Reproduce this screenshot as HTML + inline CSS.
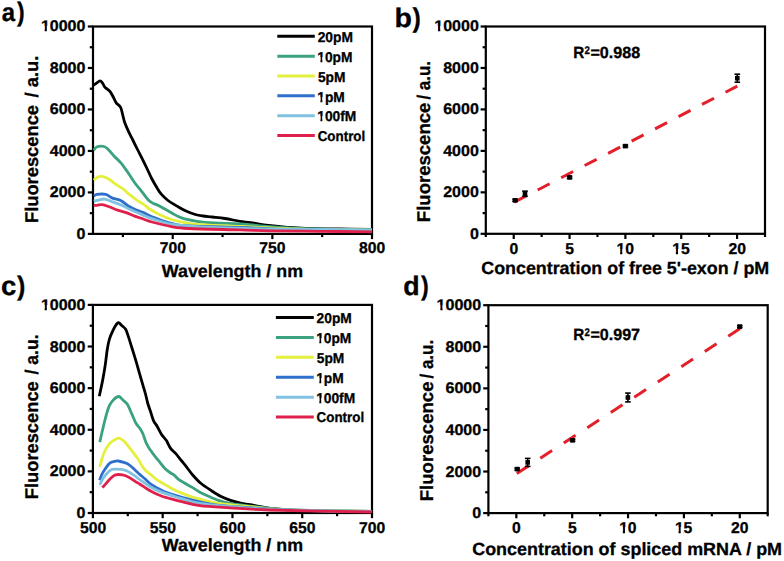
<!DOCTYPE html>
<html><head><meta charset="utf-8"><style>
html,body{margin:0;padding:0;background:#fff;}
svg{display:block;}
text{font-family:"Liberation Sans",sans-serif;font-weight:bold;fill:#000;text-rendering:geometricPrecision;stroke:#000;stroke-width:0.3px;}
</style></head><body>
<svg width="784" height="561" viewBox="0 0 784 561">
<rect width="784" height="561" fill="#fff"/>
<rect x="93" y="26.5" width="279" height="207.4" fill="none" stroke="#000" stroke-width="2.2"/>
<rect x="92.9" y="304.9" width="279.1" height="208.1" fill="none" stroke="#000" stroke-width="2.2"/>
<path d="M93.5 85.2C94 84.87 95.42 83.93 96.5 83.2C97.58 82.47 99 80.83 100 80.8C101 80.77 101.7 81.95 102.5 83C103.3 84.05 103.97 86.05 104.8 87.1C105.63 88.15 106.55 88.45 107.5 89.3C108.45 90.15 109.5 90.83 110.5 92.2C111.5 93.57 112.55 95.73 113.5 97.5C114.45 99.27 115.03 101.2 116.2 102.8C117.37 104.4 119.45 105.23 120.5 107.1C121.55 108.97 121.78 111.38 122.5 114C123.22 116.62 123.7 119.68 124.8 122.8C125.9 125.92 127.77 129.83 129.1 132.7C130.43 135.57 131.4 137.2 132.8 140C134.2 142.8 135.92 146.37 137.5 149.5C139.08 152.63 140.72 155.63 142.3 158.8C143.88 161.97 145.43 165.22 147 168.5C148.57 171.78 150.12 175.42 151.7 178.5C153.28 181.58 154.93 184.43 156.5 187C158.07 189.57 159.18 191.65 161.1 193.9C163.02 196.15 165.15 198.35 168 200.5C170.85 202.65 175.2 205.05 178.2 206.8C181.2 208.55 183.15 209.72 186 211C188.85 212.28 192.47 213.67 195.3 214.5C198.13 215.33 200.13 215.58 203 216C205.87 216.42 208.83 216.58 212.5 217C216.17 217.42 220.43 217.78 225 218.5C229.57 219.22 235.63 220.6 239.9 221.3C244.17 222 245.42 221.97 250.6 222.7C255.78 223.43 264.88 224.93 271 225.7C277.12 226.47 281.52 226.85 287.3 227.3C293.08 227.75 296.92 228.12 305.7 228.4C314.48 228.68 328.95 228.85 340 229C351.05 229.15 366.67 229.25 372 229.3" fill="none" stroke="#000000" stroke-width="2.8" stroke-linejoin="round" stroke-linecap="butt"/>
<path d="M93.7 150.3C94.27 149.72 95.38 147.43 97.1 146.8C98.82 146.17 102.15 146.07 104 146.5C105.85 146.93 106.5 147.78 108.2 149.4C109.9 151.02 112.05 153.92 114.2 156.2C116.35 158.48 118.82 160.38 121.1 163.1C123.38 165.82 125.63 169.23 127.9 172.5C130.17 175.77 132.42 179.57 134.7 182.7C136.98 185.83 139.33 188.43 141.6 191.3C143.87 194.17 146.32 197.87 148.3 199.9C150.28 201.93 151.65 202.5 153.5 203.5C155.35 204.5 156.42 204.35 159.4 205.9C162.38 207.45 167.7 210.8 171.4 212.8C175.1 214.8 177.32 216.48 181.6 217.9C185.88 219.32 191.67 220.45 197.1 221.3C202.53 222.15 207.07 222.57 214.2 223C221.33 223.43 232.27 223.43 239.9 223.9C247.53 224.37 249.98 225.03 260 225.8C270.02 226.57 287.5 227.92 300 228.5C312.5 229.08 323 229.12 335 229.3C347 229.48 365.83 229.55 372 229.6" fill="none" stroke="#3aa27c" stroke-width="2.8" stroke-linejoin="round" stroke-linecap="butt"/>
<path d="M93.7 180.2C94.42 179.63 96.28 177.37 98 176.8C99.72 176.23 102.15 176.38 104 176.8C105.85 177.22 107.12 178.03 109.1 179.3C111.08 180.57 113.62 182.83 115.9 184.4C118.18 185.97 120.52 186.98 122.8 188.7C125.08 190.42 127.33 192.85 129.6 194.7C131.87 196.55 134.12 198.23 136.4 199.8C138.68 201.37 141.12 202.57 143.3 204.1C145.48 205.63 146.82 207.27 149.5 209C152.18 210.73 155.75 212.75 159.4 214.5C163.05 216.25 166.55 218.03 171.4 219.5C176.25 220.97 182.8 222.38 188.5 223.3C194.2 224.22 197.03 224.47 205.6 225C214.17 225.53 227.5 225.95 239.9 226.5C252.3 227.05 266.65 227.8 280 228.3C293.35 228.8 304.67 229.18 320 229.5C335.33 229.82 363.33 230.08 372 230.2" fill="none" stroke="#e4f03c" stroke-width="2.8" stroke-linejoin="round" stroke-linecap="butt"/>
<path d="M93.7 196.1C94.27 195.82 95.1 194.68 97.1 194.4C99.1 194.12 103.13 193.78 105.7 194.4C108.27 195.02 109.93 197.05 112.5 198.1C115.07 199.15 118.53 199.42 121.1 200.7C123.67 201.98 125.35 204.23 127.9 205.8C130.45 207.37 133.83 208.97 136.4 210.1C138.97 211.23 140.7 211.47 143.3 212.6C145.9 213.73 149.22 215.7 152 216.9C154.78 218.1 156.77 218.72 160 219.8C163.23 220.88 166.65 222.37 171.4 223.4C176.15 224.43 177.08 225.32 188.5 226C199.92 226.68 226.32 227.03 239.9 227.5C253.48 227.97 259.98 228.45 270 228.8C280.02 229.15 283 229.3 300 229.6C317 229.9 360 230.43 372 230.6" fill="none" stroke="#2f6fcc" stroke-width="2.8" stroke-linejoin="round" stroke-linecap="butt"/>
<path d="M93.7 201.2C94.55 201.03 97.08 200.57 98.8 200.2C100.52 199.83 102 198.83 104 199C106 199.17 107.95 200.2 110.8 201.2C113.65 202.2 117.68 203.52 121.1 205C124.52 206.48 127.6 208.4 131.3 210.1C135 211.8 139.85 213.78 143.3 215.2C146.75 216.62 147.32 217.1 152 218.6C156.68 220.1 163.4 222.83 171.4 224.2C179.4 225.57 188.58 226.13 200 226.8C211.42 227.47 228.23 227.8 239.9 228.2C251.57 228.6 256.65 228.98 270 229.2C283.35 229.42 303 229.4 320 229.5C337 229.6 363.33 229.75 372 229.8" fill="none" stroke="#80c2e0" stroke-width="2.8" stroke-linejoin="round" stroke-linecap="butt"/>
<path d="M93.7 205.3C94.27 205.3 95.67 205.42 97.1 205.3C98.53 205.18 100.3 204.37 102.3 204.6C104.3 204.83 106.55 205.78 109.1 206.7C111.65 207.62 114.75 209.12 117.6 210.1C120.45 211.08 123.35 211.6 126.2 212.6C129.05 213.6 131.85 215.03 134.7 216.1C137.55 217.17 140.42 218.02 143.3 219C146.18 219.98 147.32 220.73 152 222C156.68 223.27 165.32 225.52 171.4 226.6C177.48 227.68 177.08 227.95 188.5 228.5C199.92 229.05 226.32 229.52 239.9 229.9C253.48 230.28 256.65 230.57 270 230.8C283.35 231.03 303 231.13 320 231.3C337 231.47 363.33 231.72 372 231.8" fill="none" stroke="#e0204c" stroke-width="2.8" stroke-linejoin="round" stroke-linecap="butt"/>
<path d="M99.3 396.2C99.87 393.5 101.7 385.27 102.7 380C103.7 374.73 104.53 369.73 105.3 364.6C106.07 359.47 106.6 353.48 107.3 349.2C108 344.92 108.55 342.03 109.5 338.9C110.45 335.77 111.85 332.82 113 330.4C114.15 327.98 115.47 325.68 116.4 324.4C117.33 323.12 117.6 322.42 118.6 322.7C119.6 322.98 121.2 324.97 122.4 326.1C123.6 327.23 124.82 327.78 125.8 329.5C126.78 331.22 127.3 333.4 128.3 336.4C129.3 339.4 130.52 343.37 131.8 347.5C133.08 351.63 134.73 356.93 136 361.2C137.27 365.47 138.25 369.12 139.4 373.1C140.55 377.08 141.88 381.62 142.9 385.1C143.92 388.58 144.68 390.93 145.5 394C146.32 397.07 146.93 400.48 147.8 403.5C148.67 406.52 149.75 409.25 150.7 412.1C151.65 414.95 152.43 418.23 153.5 420.6C154.57 422.97 155.78 424.03 157.1 426.3C158.42 428.57 159.85 431.82 161.4 434.2C162.95 436.58 164.87 438.23 166.4 440.6C167.93 442.97 169.07 446.27 170.6 448.4C172.13 450.53 173.82 451.38 175.6 453.4C177.38 455.42 179.4 458.13 181.3 460.5C183.2 462.87 185.1 465.18 187 467.6C188.9 470.02 190.4 472.38 192.7 475C195 477.62 197.75 480.73 200.8 483.3C203.85 485.87 207.62 488.2 211 490.4C214.38 492.6 217.72 494.8 221.1 496.5C224.48 498.2 227.9 499.47 231.3 500.6C234.7 501.73 238.38 502.62 241.5 503.3C244.62 503.98 245.75 503.95 250 504.7C254.25 505.45 260.78 506.95 267 507.8C273.22 508.65 281.53 509.3 287.3 509.8C293.07 510.3 292.82 510.57 301.6 510.8C310.38 511.03 328.27 511.12 340 511.2C351.73 511.28 366.67 511.28 372 511.3" fill="none" stroke="#000000" stroke-width="2.8" stroke-linejoin="round" stroke-linecap="butt"/>
<path d="M99.8 442.1C100.28 439.97 101.65 433.72 102.7 429.3C103.75 424.88 104.97 419.58 106.1 415.6C107.23 411.62 108.22 408.1 109.5 405.4C110.78 402.7 112.23 400.88 113.8 399.4C115.37 397.92 117.33 396.35 118.9 396.5C120.47 396.65 121.77 398.97 123.2 400.3C124.63 401.63 126.07 402.23 127.5 404.5C128.93 406.77 130.38 410.77 131.8 413.9C133.22 417.03 134.63 420.87 136 423.3C137.37 425.73 138.87 426.8 140 428.5C141.13 430.2 141.73 431.02 142.8 433.5C143.87 435.98 145.08 440.55 146.4 443.4C147.72 446.25 149.27 448.43 150.7 450.6C152.13 452.77 153.4 454.37 155 456.4C156.6 458.43 158.7 460.83 160.3 462.8C161.9 464.77 163 466.58 164.6 468.2C166.2 469.82 168.3 471.35 169.9 472.5C171.5 473.65 172.77 473.95 174.2 475.1C175.63 476.25 176.72 478.05 178.5 479.4C180.28 480.75 182.77 481.95 184.9 483.2C187.03 484.45 188.8 485.4 191.3 486.9C193.8 488.4 197.3 490.77 199.9 492.2C202.5 493.63 203.7 494.1 206.9 495.5C210.1 496.9 215.03 499.23 219.1 500.6C223.17 501.97 226.15 502.78 231.3 503.7C236.45 504.62 242.72 505.25 250 506.1C257.28 506.95 265 508.07 275 508.8C285 509.53 293.83 510.07 310 510.5C326.17 510.93 361.67 511.25 372 511.4" fill="none" stroke="#3aa27c" stroke-width="2.8" stroke-linejoin="round" stroke-linecap="butt"/>
<path d="M99.8 466.9C100.42 464.77 102.02 457.8 103.5 454.1C104.98 450.4 106.98 446.98 108.7 444.7C110.42 442.42 112.1 441.48 113.8 440.4C115.5 439.32 117.18 438.05 118.9 438.2C120.62 438.35 122.38 439.78 124.1 441.3C125.82 442.82 127.5 445.17 129.2 447.3C130.9 449.43 132.77 452.07 134.3 454.1C135.83 456.13 137.1 457.52 138.4 459.5C139.7 461.48 140.95 464.2 142.1 466C143.25 467.8 143.87 468.87 145.3 470.3C146.73 471.73 148.73 473 150.7 474.6C152.67 476.2 154.97 478.38 157.1 479.9C159.23 481.42 161.37 482.45 163.5 483.7C165.63 484.95 167.58 486.15 169.9 487.4C172.22 488.65 174.9 490.03 177.4 491.2C179.9 492.37 182.4 493.42 184.9 494.4C187.4 495.38 189.9 496.3 192.4 497.1C194.9 497.9 195.78 498.18 199.9 499.2C204.02 500.22 208.75 501.95 217.1 503.2C225.45 504.45 237.85 505.6 250 506.7C262.15 507.8 269.67 509 290 509.8C310.33 510.6 358.33 511.22 372 511.5" fill="none" stroke="#e4f03c" stroke-width="2.8" stroke-linejoin="round" stroke-linecap="butt"/>
<path d="M99.6 480.3C99.97 479.33 100.85 476.42 101.8 474.5C102.75 472.58 103.97 470.7 105.3 468.8C106.63 466.9 108.28 464.33 109.8 463.1C111.32 461.87 113.03 461.75 114.4 461.4C115.77 461.05 116.48 460.85 118 461C119.52 461.15 121.63 461.67 123.5 462.3C125.37 462.93 127.28 463.52 129.2 464.8C131.12 466.08 133.2 468.37 135 470C136.8 471.63 138.45 473.22 140 474.6C141.55 475.98 142.52 476.7 144.3 478.3C146.08 479.9 148.57 482.58 150.7 484.2C152.83 485.82 154.97 486.83 157.1 488C159.23 489.17 161 490.13 163.5 491.2C166 492.27 168.88 493.33 172.1 494.4C175.32 495.47 179.23 496.62 182.8 497.6C186.37 498.58 190.65 499.58 193.5 500.3C196.35 501.02 195.97 501.08 199.9 501.9C203.83 502.72 208.75 504.23 217.1 505.2C225.45 506.17 236.18 506.85 250 507.7C263.82 508.55 279.67 509.65 300 510.3C320.33 510.95 360 511.38 372 511.6" fill="none" stroke="#2f6fcc" stroke-width="2.8" stroke-linejoin="round" stroke-linecap="butt"/>
<path d="M99.8 484.8C100.33 483.75 101.7 480.5 103 478.5C104.3 476.5 106.08 474.32 107.6 472.8C109.12 471.28 109.82 469.97 112.1 469.4C114.38 468.83 118.82 469.12 121.3 469.4C123.78 469.68 124.92 470.15 127 471.1C129.08 472.05 131.52 473.57 133.8 475.1C136.08 476.63 138.03 478.4 140.7 480.3C143.37 482.2 146.77 484.7 149.8 486.5C152.83 488.3 154.72 489.43 158.9 491.1C163.08 492.77 168.07 494.43 174.9 496.5C181.73 498.57 190.72 501.83 199.9 503.5C209.08 505.17 218.32 505.53 230 506.5C241.68 507.47 246.33 508.43 270 509.3C293.67 510.17 355 511.3 372 511.7" fill="none" stroke="#80c2e0" stroke-width="2.8" stroke-linejoin="round" stroke-linecap="butt"/>
<path d="M102.4 487.7C103.07 486.93 104.97 484.72 106.4 483.1C107.83 481.48 109.48 479.37 111 478C112.52 476.63 113.6 475.42 115.5 474.9C117.4 474.38 120.12 474.48 122.4 474.9C124.68 475.32 126.92 476.22 129.2 477.4C131.48 478.58 134.3 480.87 136.1 482C137.9 483.13 138.28 483.12 140 484.2C141.72 485.28 144.08 487.07 146.4 488.5C148.72 489.93 151.4 491.55 153.9 492.8C156.4 494.05 158.37 494.93 161.4 496C164.43 497.07 168.53 498.22 172.1 499.2C175.67 500.18 178.17 500.83 182.8 501.9C187.43 502.97 192.03 504.62 199.9 505.6C207.77 506.58 218.32 507.07 230 507.8C241.68 508.53 246.33 509.3 270 510C293.67 510.7 355 511.67 372 512" fill="none" stroke="#e0204c" stroke-width="2.8" stroke-linejoin="round" stroke-linecap="butt"/>
<line x1="87.8" y1="233.9" x2="93" y2="233.9" stroke="#000" stroke-width="2.2"/>
<text transform="translate(76.54 239) scale(1.040 1)" font-size="15.4">0</text>
<line x1="89.8" y1="213.16" x2="93" y2="213.16" stroke="#000" stroke-width="2.2"/>
<line x1="87.8" y1="192.42" x2="93" y2="192.42" stroke="#000" stroke-width="2.2"/>
<text transform="translate(49.82 197) scale(1.040 1)" font-size="15.4">2000</text>
<line x1="89.8" y1="171.68" x2="93" y2="171.68" stroke="#000" stroke-width="2.2"/>
<line x1="87.8" y1="150.94" x2="93" y2="150.94" stroke="#000" stroke-width="2.2"/>
<text transform="translate(49.82 156) scale(1.040 1)" font-size="15.4">4000</text>
<line x1="89.8" y1="130.2" x2="93" y2="130.2" stroke="#000" stroke-width="2.2"/>
<line x1="87.8" y1="109.46" x2="93" y2="109.46" stroke="#000" stroke-width="2.2"/>
<text transform="translate(49.82 114) scale(1.040 1)" font-size="15.4">6000</text>
<line x1="89.8" y1="88.72" x2="93" y2="88.72" stroke="#000" stroke-width="2.2"/>
<line x1="87.8" y1="67.98" x2="93" y2="67.98" stroke="#000" stroke-width="2.2"/>
<text transform="translate(49.82 73) scale(1.040 1)" font-size="15.4">8000</text>
<line x1="89.8" y1="47.24" x2="93" y2="47.24" stroke="#000" stroke-width="2.2"/>
<line x1="87.8" y1="26.5" x2="93" y2="26.5" stroke="#000" stroke-width="2.2"/>
<text transform="translate(40.91 31) scale(1.040 1)" font-size="15.4">10000</text>
<rect x="39.74" y="26" width="4.88" height="7" fill="#fff"/>
<rect x="46.88" y="26" width="3.03" height="7" fill="#fff"/>
<line x1="172.71" y1="233.9" x2="172.71" y2="239.1" stroke="#000" stroke-width="2.2"/>
<text transform="translate(159.69 253.4) scale(1.000 1)" font-size="15.7">700</text>
<line x1="272.36" y1="233.9" x2="272.36" y2="239.1" stroke="#000" stroke-width="2.2"/>
<text transform="translate(259.33 253.4) scale(1.000 1)" font-size="15.7">750</text>
<line x1="372" y1="233.9" x2="372" y2="239.1" stroke="#000" stroke-width="2.2"/>
<text transform="translate(358.98 253.4) scale(1.000 1)" font-size="15.7">800</text>
<line x1="122.89" y1="233.9" x2="122.89" y2="237.1" stroke="#000" stroke-width="2.2"/>
<line x1="222.54" y1="233.9" x2="222.54" y2="237.1" stroke="#000" stroke-width="2.2"/>
<line x1="322.18" y1="233.9" x2="322.18" y2="237.1" stroke="#000" stroke-width="2.2"/>
<line x1="277.3" y1="36.3" x2="314.8" y2="36.3" stroke="#000000" stroke-width="3.0"/>
<text transform="translate(317.67 42) scale(0.970 1)" font-size="14.2">20pM</text>
<line x1="277.3" y1="56.15" x2="314.8" y2="56.15" stroke="#3aa27c" stroke-width="3.0"/>
<text transform="translate(317.24 62) scale(0.970 1)" font-size="14.2">10pM</text>
<rect x="316.23" y="57" width="4.2" height="7" fill="#fff"/>
<rect x="322.37" y="57" width="2.6" height="7" fill="#fff"/>
<line x1="277.3" y1="76" x2="314.8" y2="76" stroke="#e4f03c" stroke-width="3.0"/>
<text transform="translate(317.88 82) scale(0.970 1)" font-size="14.2">5pM</text>
<line x1="277.3" y1="95.85" x2="314.8" y2="95.85" stroke="#2f6fcc" stroke-width="3.0"/>
<text transform="translate(317.24 102) scale(0.970 1)" font-size="14.2">1pM</text>
<rect x="316.23" y="97" width="4.2" height="7" fill="#fff"/>
<rect x="322.37" y="97" width="2.6" height="7" fill="#fff"/>
<line x1="277.3" y1="115.7" x2="314.8" y2="115.7" stroke="#80c2e0" stroke-width="3.0"/>
<text transform="translate(317.24 121) scale(0.970 1)" font-size="14.2">100fM</text>
<rect x="316.23" y="116" width="4.2" height="7" fill="#fff"/>
<rect x="322.37" y="116" width="2.6" height="7" fill="#fff"/>
<line x1="277.3" y1="135.55" x2="314.8" y2="135.55" stroke="#e0204c" stroke-width="3.0"/>
<text transform="translate(317.68 141) scale(0.943 1)" font-size="14.2">Control</text>
<text transform="translate(161.8 277.1) scale(1.015 1)" font-size="17.6">Wavelength / nm</text>
<text transform="translate(38.3 223.05) rotate(-90) scale(0.996 1)" font-size="18.4">Fluorescence</text>
<text transform="translate(38.3 97.5) rotate(-90) scale(0.997 1)" font-size="18.4">/ a.u.</text>
<text transform="translate(1.73 21.4) scale(0.928 1)" font-size="25.8">a</text>
<text transform="translate(17 21.4) scale(0.855 1)" font-size="26.8">)</text>
<line x1="87.7" y1="513" x2="92.9" y2="513" stroke="#000" stroke-width="2.2"/>
<text transform="translate(76.54 518) scale(1.040 1)" font-size="15.4">0</text>
<line x1="89.7" y1="492.19" x2="92.9" y2="492.19" stroke="#000" stroke-width="2.2"/>
<line x1="87.7" y1="471.38" x2="92.9" y2="471.38" stroke="#000" stroke-width="2.2"/>
<text transform="translate(49.82 476) scale(1.040 1)" font-size="15.4">2000</text>
<line x1="89.7" y1="450.57" x2="92.9" y2="450.57" stroke="#000" stroke-width="2.2"/>
<line x1="87.7" y1="429.76" x2="92.9" y2="429.76" stroke="#000" stroke-width="2.2"/>
<text transform="translate(49.82 435) scale(1.040 1)" font-size="15.4">4000</text>
<line x1="89.7" y1="408.95" x2="92.9" y2="408.95" stroke="#000" stroke-width="2.2"/>
<line x1="87.7" y1="388.14" x2="92.9" y2="388.14" stroke="#000" stroke-width="2.2"/>
<text transform="translate(49.82 393) scale(1.040 1)" font-size="15.4">6000</text>
<line x1="89.7" y1="367.33" x2="92.9" y2="367.33" stroke="#000" stroke-width="2.2"/>
<line x1="87.7" y1="346.52" x2="92.9" y2="346.52" stroke="#000" stroke-width="2.2"/>
<text transform="translate(49.82 352) scale(1.040 1)" font-size="15.4">8000</text>
<line x1="89.7" y1="325.71" x2="92.9" y2="325.71" stroke="#000" stroke-width="2.2"/>
<line x1="87.7" y1="304.9" x2="92.9" y2="304.9" stroke="#000" stroke-width="2.2"/>
<text transform="translate(40.91 310) scale(1.040 1)" font-size="15.4">10000</text>
<rect x="39.74" y="305" width="4.88" height="7" fill="#fff"/>
<rect x="46.88" y="305" width="3.03" height="7" fill="#fff"/>
<line x1="92.9" y1="513" x2="92.9" y2="518.2" stroke="#000" stroke-width="2.2"/>
<text transform="translate(80 532.6) scale(1.000 1)" font-size="15.7">500</text>
<line x1="162.68" y1="513" x2="162.68" y2="518.2" stroke="#000" stroke-width="2.2"/>
<text transform="translate(149.77 532.6) scale(1.000 1)" font-size="15.7">550</text>
<line x1="232.45" y1="513" x2="232.45" y2="518.2" stroke="#000" stroke-width="2.2"/>
<text transform="translate(219.43 532.6) scale(1.000 1)" font-size="15.7">600</text>
<line x1="302.23" y1="513" x2="302.23" y2="518.2" stroke="#000" stroke-width="2.2"/>
<text transform="translate(289.2 532.6) scale(1.000 1)" font-size="15.7">650</text>
<line x1="372" y1="513" x2="372" y2="518.2" stroke="#000" stroke-width="2.2"/>
<text transform="translate(358.98 532.6) scale(1.000 1)" font-size="15.7">700</text>
<line x1="127.79" y1="513" x2="127.79" y2="516.2" stroke="#000" stroke-width="2.2"/>
<line x1="197.56" y1="513" x2="197.56" y2="516.2" stroke="#000" stroke-width="2.2"/>
<line x1="267.34" y1="513" x2="267.34" y2="516.2" stroke="#000" stroke-width="2.2"/>
<line x1="337.11" y1="513" x2="337.11" y2="516.2" stroke="#000" stroke-width="2.2"/>
<line x1="275.9" y1="317.5" x2="313.8" y2="317.5" stroke="#000000" stroke-width="3.0"/>
<text transform="translate(316.57 323) scale(0.970 1)" font-size="14.2">20pM</text>
<line x1="275.9" y1="337.42" x2="313.8" y2="337.42" stroke="#3aa27c" stroke-width="3.0"/>
<text transform="translate(316.14 343) scale(0.970 1)" font-size="14.2">10pM</text>
<rect x="315.13" y="338" width="4.2" height="7" fill="#fff"/>
<rect x="321.27" y="338" width="2.6" height="7" fill="#fff"/>
<line x1="275.9" y1="357.34" x2="313.8" y2="357.34" stroke="#e4f03c" stroke-width="3.0"/>
<text transform="translate(316.78 363) scale(0.970 1)" font-size="14.2">5pM</text>
<line x1="275.9" y1="377.26" x2="313.8" y2="377.26" stroke="#2f6fcc" stroke-width="3.0"/>
<text transform="translate(316.14 383) scale(0.970 1)" font-size="14.2">1pM</text>
<rect x="315.13" y="378" width="4.2" height="7" fill="#fff"/>
<rect x="321.27" y="378" width="2.6" height="7" fill="#fff"/>
<line x1="275.9" y1="397.18" x2="313.8" y2="397.18" stroke="#80c2e0" stroke-width="3.0"/>
<text transform="translate(316.14 403) scale(0.970 1)" font-size="14.2">100fM</text>
<rect x="315.13" y="398" width="4.2" height="7" fill="#fff"/>
<rect x="321.27" y="398" width="2.6" height="7" fill="#fff"/>
<line x1="275.9" y1="417.1" x2="313.8" y2="417.1" stroke="#e0204c" stroke-width="3.0"/>
<text transform="translate(316.58 422) scale(0.943 1)" font-size="14.2">Control</text>
<text transform="translate(161.8 551.4) scale(1.015 1)" font-size="17.6">Wavelength / nm</text>
<text transform="translate(37.5 499.24) rotate(-90) scale(0.995 1)" font-size="18.4">Fluorescence</text>
<text transform="translate(37.5 374.4) rotate(-90) scale(0.953 1)" font-size="18.4">/ a.u.</text>
<text transform="translate(1.04 295.3) scale(1.030 1)" font-size="26.8">c</text>
<text transform="translate(17 295.3) scale(0.930 1)" font-size="26.8">)</text>
<rect x="485.8" y="26.5" width="279.2" height="207.3" fill="none" stroke="#000" stroke-width="2.2"/>
<line x1="480.6" y1="233.8" x2="485.8" y2="233.8" stroke="#000" stroke-width="2.2"/>
<text transform="translate(469.94 239) scale(1.040 1)" font-size="15.4">0</text>
<line x1="482.6" y1="213.07" x2="485.8" y2="213.07" stroke="#000" stroke-width="2.2"/>
<line x1="480.6" y1="192.34" x2="485.8" y2="192.34" stroke="#000" stroke-width="2.2"/>
<text transform="translate(443.22 197) scale(1.040 1)" font-size="15.4">2000</text>
<line x1="482.6" y1="171.61" x2="485.8" y2="171.61" stroke="#000" stroke-width="2.2"/>
<line x1="480.6" y1="150.88" x2="485.8" y2="150.88" stroke="#000" stroke-width="2.2"/>
<text transform="translate(443.22 156) scale(1.040 1)" font-size="15.4">4000</text>
<line x1="482.6" y1="130.15" x2="485.8" y2="130.15" stroke="#000" stroke-width="2.2"/>
<line x1="480.6" y1="109.42" x2="485.8" y2="109.42" stroke="#000" stroke-width="2.2"/>
<text transform="translate(443.22 114) scale(1.040 1)" font-size="15.4">6000</text>
<line x1="482.6" y1="88.69" x2="485.8" y2="88.69" stroke="#000" stroke-width="2.2"/>
<line x1="480.6" y1="67.96" x2="485.8" y2="67.96" stroke="#000" stroke-width="2.2"/>
<text transform="translate(443.22 73) scale(1.040 1)" font-size="15.4">8000</text>
<line x1="482.6" y1="47.23" x2="485.8" y2="47.23" stroke="#000" stroke-width="2.2"/>
<line x1="480.6" y1="26.5" x2="485.8" y2="26.5" stroke="#000" stroke-width="2.2"/>
<text transform="translate(434.31 31) scale(1.040 1)" font-size="15.4">10000</text>
<rect x="433.14" y="26" width="4.88" height="7" fill="#fff"/>
<rect x="440.28" y="26" width="3.03" height="7" fill="#fff"/>
<line x1="513.72" y1="233.8" x2="513.72" y2="239" stroke="#000" stroke-width="2.2"/>
<text transform="translate(509.43 253.7) scale(1.000 1)" font-size="15.7">0</text>
<line x1="569.56" y1="233.8" x2="569.56" y2="239" stroke="#000" stroke-width="2.2"/>
<text transform="translate(565.27 253.7) scale(1.000 1)" font-size="15.7">5</text>
<line x1="625.4" y1="233.8" x2="625.4" y2="239" stroke="#000" stroke-width="2.2"/>
<text transform="translate(616.5 253.7) scale(1.000 1)" font-size="15.7">10</text>
<rect x="615.35" y="249" width="4.78" height="7" fill="#fff"/>
<rect x="622.35" y="249" width="2.97" height="7" fill="#fff"/>
<line x1="681.24" y1="233.8" x2="681.24" y2="239" stroke="#000" stroke-width="2.2"/>
<text transform="translate(672.21 253.7) scale(1.000 1)" font-size="15.7">15</text>
<rect x="671.06" y="249" width="4.78" height="7" fill="#fff"/>
<rect x="678.06" y="249" width="2.97" height="7" fill="#fff"/>
<line x1="737.08" y1="233.8" x2="737.08" y2="239" stroke="#000" stroke-width="2.2"/>
<text transform="translate(728.42 253.7) scale(1.000 1)" font-size="15.7">20</text>
<line x1="485.8" y1="233.8" x2="485.8" y2="237" stroke="#000" stroke-width="2.2"/>
<line x1="541.64" y1="233.8" x2="541.64" y2="237" stroke="#000" stroke-width="2.2"/>
<line x1="597.48" y1="233.8" x2="597.48" y2="237" stroke="#000" stroke-width="2.2"/>
<line x1="653.32" y1="233.8" x2="653.32" y2="237" stroke="#000" stroke-width="2.2"/>
<line x1="709.16" y1="233.8" x2="709.16" y2="237" stroke="#000" stroke-width="2.2"/>
<line x1="765" y1="233.8" x2="765" y2="237" stroke="#000" stroke-width="2.2"/>
<line x1="514.2" y1="202.2" x2="737.3" y2="86.1" stroke="#e3202a" stroke-width="3" stroke-dasharray="13.5 12.97"/>
<rect x="512.8" y="198" width="4.6" height="4.6" fill="#000"/>
<line x1="515.1" y1="199.3" x2="515.1" y2="201.3" stroke="#000" stroke-width="1.6"/>
<line x1="512.3" y1="199.3" x2="517.9" y2="199.3" stroke="#000" stroke-width="1.6"/>
<line x1="512.3" y1="201.3" x2="517.9" y2="201.3" stroke="#000" stroke-width="1.6"/>
<rect x="522.7" y="191.45" width="4.6" height="4.6" fill="#000"/>
<line x1="525" y1="191.15" x2="525" y2="196.35" stroke="#000" stroke-width="1.6"/>
<line x1="522.2" y1="191.15" x2="527.8" y2="191.15" stroke="#000" stroke-width="1.6"/>
<line x1="522.2" y1="196.35" x2="527.8" y2="196.35" stroke="#000" stroke-width="1.6"/>
<rect x="567.3" y="175.1" width="4.6" height="4.6" fill="#000"/>
<line x1="569.6" y1="176.4" x2="569.6" y2="178.4" stroke="#000" stroke-width="1.6"/>
<line x1="566.8" y1="176.4" x2="572.4" y2="176.4" stroke="#000" stroke-width="1.6"/>
<line x1="566.8" y1="178.4" x2="572.4" y2="178.4" stroke="#000" stroke-width="1.6"/>
<rect x="623.1" y="143.8" width="4.6" height="4.6" fill="#000"/>
<line x1="625.4" y1="145.1" x2="625.4" y2="147.1" stroke="#000" stroke-width="1.6"/>
<line x1="622.6" y1="145.1" x2="628.2" y2="145.1" stroke="#000" stroke-width="1.6"/>
<line x1="622.6" y1="147.1" x2="628.2" y2="147.1" stroke="#000" stroke-width="1.6"/>
<rect x="735" y="75.9" width="4.6" height="4.6" fill="#000"/>
<line x1="737.3" y1="74.2" x2="737.3" y2="82.2" stroke="#000" stroke-width="1.6"/>
<line x1="734.5" y1="74.2" x2="740.1" y2="74.2" stroke="#000" stroke-width="1.6"/>
<line x1="734.5" y1="82.2" x2="740.1" y2="82.2" stroke="#000" stroke-width="1.6"/>
<text transform="translate(481.24 274.2) scale(1.015 1)" font-size="17.6">Concentration of free 5'-exon / pM</text>
<text transform="translate(429.9 222.16) rotate(-90) scale(1.008 1)" font-size="18.4">Fluorescence</text>
<text transform="translate(429.9 99.6) rotate(-90) scale(0.923 1)" font-size="18.4">/ a.u.</text>
<text transform="translate(394.42 26.5) scale(1.064 1)" font-size="26.8">b</text>
<text transform="translate(412.5 26.5) scale(0.916 1)" font-size="27.2">)</text>
<text transform="translate(573.14 57.9) scale(0.944 1)" font-size="16.2">R</text>
<text transform="translate(584.5 53.6) scale(0.857 1)" font-size="11.2">2</text>
<text transform="translate(590.4 57.9) scale(0.995 1)" font-size="16.2">=0.988</text>
<rect x="488.4" y="305.2" width="279.3" height="207.9" fill="none" stroke="#000" stroke-width="2.2"/>
<line x1="483.2" y1="513.1" x2="488.4" y2="513.1" stroke="#000" stroke-width="2.2"/>
<text transform="translate(472.24 518) scale(1.040 1)" font-size="15.4">0</text>
<line x1="485.2" y1="492.31" x2="488.4" y2="492.31" stroke="#000" stroke-width="2.2"/>
<line x1="483.2" y1="471.52" x2="488.4" y2="471.52" stroke="#000" stroke-width="2.2"/>
<text transform="translate(445.52 477) scale(1.040 1)" font-size="15.4">2000</text>
<line x1="485.2" y1="450.73" x2="488.4" y2="450.73" stroke="#000" stroke-width="2.2"/>
<line x1="483.2" y1="429.94" x2="488.4" y2="429.94" stroke="#000" stroke-width="2.2"/>
<text transform="translate(445.52 435) scale(1.040 1)" font-size="15.4">4000</text>
<line x1="485.2" y1="409.15" x2="488.4" y2="409.15" stroke="#000" stroke-width="2.2"/>
<line x1="483.2" y1="388.36" x2="488.4" y2="388.36" stroke="#000" stroke-width="2.2"/>
<text transform="translate(445.52 393) scale(1.040 1)" font-size="15.4">6000</text>
<line x1="485.2" y1="367.57" x2="488.4" y2="367.57" stroke="#000" stroke-width="2.2"/>
<line x1="483.2" y1="346.78" x2="488.4" y2="346.78" stroke="#000" stroke-width="2.2"/>
<text transform="translate(445.52 352) scale(1.040 1)" font-size="15.4">8000</text>
<line x1="485.2" y1="325.99" x2="488.4" y2="325.99" stroke="#000" stroke-width="2.2"/>
<line x1="483.2" y1="305.2" x2="488.4" y2="305.2" stroke="#000" stroke-width="2.2"/>
<text transform="translate(436.61 310) scale(1.040 1)" font-size="15.4">10000</text>
<rect x="435.44" y="305" width="4.88" height="7" fill="#fff"/>
<rect x="442.58" y="305" width="3.03" height="7" fill="#fff"/>
<line x1="516.33" y1="513.1" x2="516.33" y2="518.3" stroke="#000" stroke-width="2.2"/>
<text transform="translate(512.04 532.5) scale(1.000 1)" font-size="15.7">0</text>
<line x1="572.19" y1="513.1" x2="572.19" y2="518.3" stroke="#000" stroke-width="2.2"/>
<text transform="translate(567.9 532.5) scale(1.000 1)" font-size="15.7">5</text>
<line x1="628.05" y1="513.1" x2="628.05" y2="518.3" stroke="#000" stroke-width="2.2"/>
<text transform="translate(619.15 532.5) scale(1.000 1)" font-size="15.7">10</text>
<rect x="618" y="527" width="4.78" height="7" fill="#fff"/>
<rect x="625" y="527" width="2.97" height="7" fill="#fff"/>
<line x1="683.91" y1="513.1" x2="683.91" y2="518.3" stroke="#000" stroke-width="2.2"/>
<text transform="translate(674.88 532.5) scale(1.000 1)" font-size="15.7">15</text>
<rect x="673.73" y="527" width="4.78" height="7" fill="#fff"/>
<rect x="680.73" y="527" width="2.97" height="7" fill="#fff"/>
<line x1="739.77" y1="513.1" x2="739.77" y2="518.3" stroke="#000" stroke-width="2.2"/>
<text transform="translate(731.11 532.5) scale(1.000 1)" font-size="15.7">20</text>
<line x1="488.4" y1="513.1" x2="488.4" y2="516.3" stroke="#000" stroke-width="2.2"/>
<line x1="544.26" y1="513.1" x2="544.26" y2="516.3" stroke="#000" stroke-width="2.2"/>
<line x1="600.12" y1="513.1" x2="600.12" y2="516.3" stroke="#000" stroke-width="2.2"/>
<line x1="655.98" y1="513.1" x2="655.98" y2="516.3" stroke="#000" stroke-width="2.2"/>
<line x1="711.84" y1="513.1" x2="711.84" y2="516.3" stroke="#000" stroke-width="2.2"/>
<line x1="767.7" y1="513.1" x2="767.7" y2="516.3" stroke="#000" stroke-width="2.2"/>
<line x1="516.8" y1="473.5" x2="741" y2="327.9" stroke="#e3202a" stroke-width="3" stroke-dasharray="14.01 14.01"/>
<rect x="514.9" y="466.8" width="4.6" height="4.6" fill="#000"/>
<line x1="517.2" y1="468.1" x2="517.2" y2="470.1" stroke="#000" stroke-width="1.6"/>
<line x1="514.4" y1="468.1" x2="520" y2="468.1" stroke="#000" stroke-width="1.6"/>
<line x1="514.4" y1="470.1" x2="520" y2="470.1" stroke="#000" stroke-width="1.6"/>
<rect x="525.4" y="460.1" width="4.6" height="4.6" fill="#000"/>
<line x1="527.7" y1="458.4" x2="527.7" y2="466.4" stroke="#000" stroke-width="1.6"/>
<line x1="524.9" y1="458.4" x2="530.5" y2="458.4" stroke="#000" stroke-width="1.6"/>
<line x1="524.9" y1="466.4" x2="530.5" y2="466.4" stroke="#000" stroke-width="1.6"/>
<rect x="570.3" y="438" width="4.6" height="4.6" fill="#000"/>
<line x1="572.6" y1="439.3" x2="572.6" y2="441.3" stroke="#000" stroke-width="1.6"/>
<line x1="569.8" y1="439.3" x2="575.4" y2="439.3" stroke="#000" stroke-width="1.6"/>
<line x1="569.8" y1="441.3" x2="575.4" y2="441.3" stroke="#000" stroke-width="1.6"/>
<rect x="625.6" y="395.2" width="4.6" height="4.6" fill="#000"/>
<line x1="627.9" y1="393.1" x2="627.9" y2="401.9" stroke="#000" stroke-width="1.6"/>
<line x1="625.1" y1="393.1" x2="630.7" y2="393.1" stroke="#000" stroke-width="1.6"/>
<line x1="625.1" y1="401.9" x2="630.7" y2="401.9" stroke="#000" stroke-width="1.6"/>
<rect x="737.45" y="324.3" width="4.6" height="4.6" fill="#000"/>
<line x1="739.75" y1="325.6" x2="739.75" y2="327.6" stroke="#000" stroke-width="1.6"/>
<line x1="736.95" y1="325.6" x2="742.55" y2="325.6" stroke="#000" stroke-width="1.6"/>
<line x1="736.95" y1="327.6" x2="742.55" y2="327.6" stroke="#000" stroke-width="1.6"/>
<text transform="translate(472.24 555) scale(1.018 1)" font-size="17.6">Concentration of spliced mRNA / pM</text>
<text transform="translate(433.3 501.26) rotate(-90) scale(1.010 1)" font-size="18.4">Fluorescence</text>
<text transform="translate(433.3 378.5) rotate(-90) scale(0.923 1)" font-size="18.4">/ a.u.</text>
<text transform="translate(403.26 295.2) scale(1.006 1)" font-size="26.6">d</text>
<text transform="translate(421 295.2) scale(0.867 1)" font-size="26.8">)</text>
<text transform="translate(573.14 340.2) scale(0.944 1)" font-size="16.2">R</text>
<text transform="translate(584.5 335.9) scale(0.857 1)" font-size="11.2">2</text>
<text transform="translate(590.4 340.2) scale(0.993 1)" font-size="16.2">=0.997</text>
</svg>
</body></html>
